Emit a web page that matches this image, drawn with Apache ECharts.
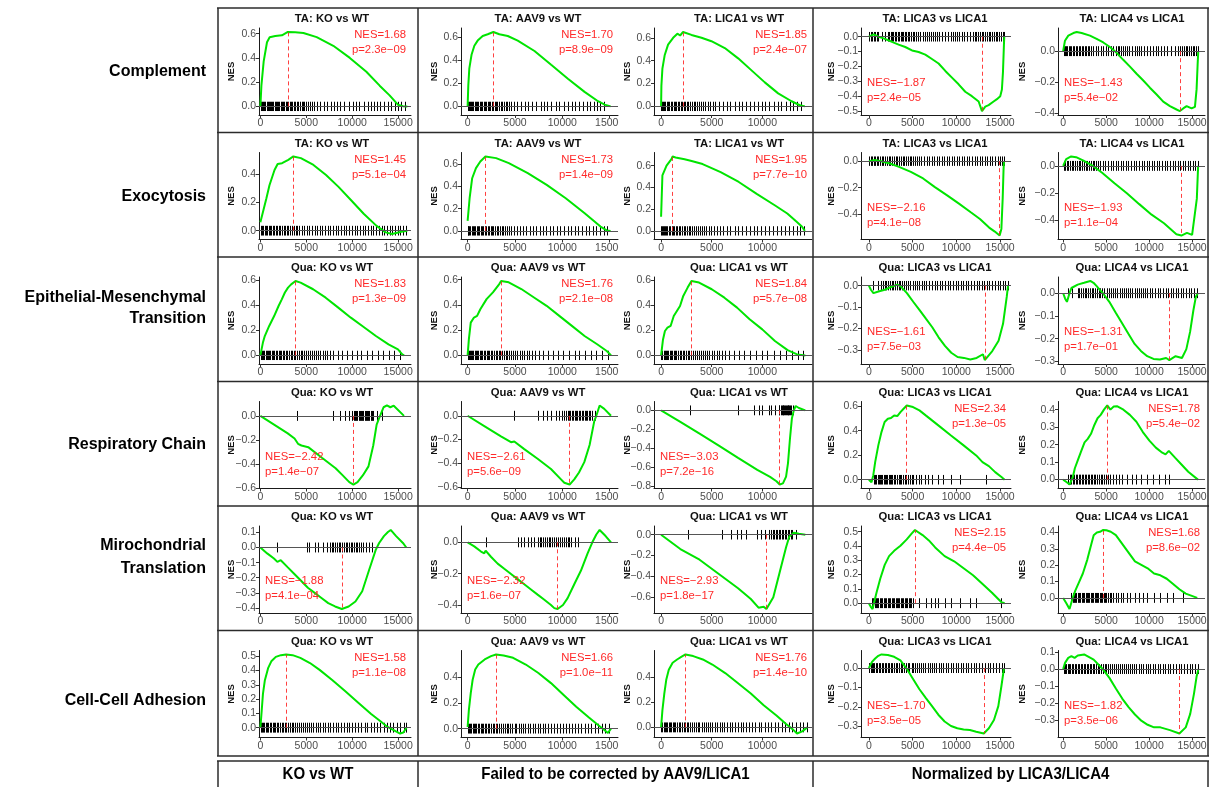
<!DOCTYPE html>
<html>
<head>
<meta charset="utf-8">
<title>GSEA enrichment plots</title>
<script src="https://cdn.jsdelivr.net/npm/echarts@6.0.0/dist/echarts.min.js"></script>
<style>
html,body{margin:0;padding:0;background:#ffffff;}
#chart{width:1209px;height:787px;}
</style>
</head>
<body>
<div id="chart"></div>
<script>
// ---------------- labels ----------------
const rowLabels = [['Complement'], ['Exocytosis'], ['Epithelial-Mesenchymal', 'Transition'], ['Respiratory Chain'], ['Mirochondrial', 'Translation'], ['Cell-Cell Adhesion']];
const groupLabels = ['KO vs WT', 'Failed to be corrected by AAV9/LICA1', 'Normalized by LICA3/LICA4'];
const tissues = ['TA', 'TA', 'Qua', 'Qua', 'Qua', 'Qua'];
const comparisons = ['KO vs WT', 'AAV9 vs WT', 'LICA1 vs WT', 'LICA3 vs LICA1', 'LICA4 vs LICA1'];
const nesValues = [
  [1.68, 1.70, 1.85, -1.87, -1.43],
  [1.45, 1.73, 1.95, -2.16, -1.93],
  [1.83, 1.76, 1.84, -1.61, -1.31],
  [-2.42, -2.61, -3.03, 2.34, 1.78],
  [-1.88, -2.32, -2.93, 2.15, 1.68],
  [1.58, 1.66, 1.76, -1.70, -1.82]
];
const pValues = [
  ['2.3e-09', '8.9e-09', '2.4e-07', '2.4e-05', '5.4e-02'],
  ['5.1e-04', '1.4e-09', '7.7e-10', '4.1e-08', '1.1e-04'],
  ['1.3e-09', '2.1e-08', '5.7e-08', '7.5e-03', '1.7e-01'],
  ['1.4e-07', '5.6e-09', '7.2e-16', '1.3e-05', '5.4e-02'],
  ['4.1e-04', '1.6e-07', '1.8e-17', '4.4e-05', '8.6e-02'],
  ['1.1e-08', '1.0e-11', '1.4e-10', '3.5e-05', '3.5e-06']
];
const xTickValues = [0, 5000, 10000, 15000];
const yTickValues = [
  [[0, 0.2, 0.4, 0.6], [0, 0.2, 0.4, 0.6], [0, 0.2, 0.4, 0.6], [-0.5, -0.4, -0.3, -0.2, -0.1, 0], [-0.4, -0.2, 0]],
  [[0, 0.2, 0.4], [0, 0.2, 0.4, 0.6], [0, 0.2, 0.4, 0.6], [-0.4, -0.2, 0], [-0.4, -0.2, 0]],
  [[0, 0.2, 0.4, 0.6], [0, 0.2, 0.4, 0.6], [0, 0.2, 0.4, 0.6], [-0.3, -0.2, -0.1, 0], [-0.3, -0.2, -0.1, 0]],
  [[-0.6, -0.4, -0.2, 0], [-0.6, -0.4, -0.2, 0], [-0.8, -0.6, -0.4, -0.2, 0], [0, 0.2, 0.4, 0.6], [0, 0.1, 0.2, 0.3, 0.4]],
  [[-0.4, -0.3, -0.2, -0.1, 0, 0.1], [-0.4, -0.2, 0], [-0.6, -0.4, -0.2, 0], [0, 0.1, 0.2, 0.3, 0.4, 0.5], [0, 0.1, 0.2, 0.3, 0.4]],
  [[0, 0.1, 0.2, 0.3, 0.4, 0.5], [0, 0.2, 0.4], [0, 0.2, 0.4], [-0.3, -0.2, -0.1, 0], [-0.3, -0.2, -0.1, 0, 0.1]]
];

// ---------------- running enrichment score curves [rank, ES] ----------------
const es_1_1 = [[0,0],[110,0.171],[360,0.371],[720,0.529],[1010,0.571],[1620,0.58],[2350,0.586],[2990,0.614],[3790,0.611],[4690,0.606],[6130,0.571],[7940,0.5],[9740,0.4],[11540,0.286],[12990,0.171],[14070,0.091],[14970,0.014],[15510,0.002],[16000,0]];
const es_1_2 = [[0,0],[70,0.18],[180,0.33],[420,0.45],[710,0.525],[1060,0.57],[1590,0.61],[2120,0.625],[2720,0.645],[3350,0.625],[4240,0.61],[5290,0.57],[7060,0.48],[8820,0.36],[10590,0.24],[12350,0.126],[13770,0.045],[14470,0.015],[15100,0]];
const es_1_3 = [[0,0],[30,0.18],[130,0.33],[360,0.45],[690,0.54],[1190,0.6],[1610,0.636],[1880,0.62],[2170,0.651],[3000,0.625],[3990,0.6],[4970,0.57],[6290,0.51],[7610,0.42],[8930,0.315],[10240,0.21],[11560,0.114],[12880,0.045],[13700,0.01],[14200,0]];
const es_1_4 = [[0,0],[160,0.011],[550,0.016],[1120,0],[1690,-0.011],[2640,-0.034],[3400,-0.053],[4160,-0.069],[4930,-0.092],[5690,-0.103],[6450,-0.12],[7210,-0.15],[7970,-0.18],[8740,-0.23],[9500,-0.275],[10260,-0.32],[11020,-0.37],[11780,-0.4],[12550,-0.436],[12930,-0.5],[13310,-0.47],[13690,-0.46],[14260,-0.436],[14640,-0.42],[15020,-0.4],[15210,-0.355],[15330,-0.24],[15440,-0.057],[15480,0]];
const es_1_5 = [[0,0],[210,0.067],[600,0.1],[1180,0.117],[1570,0.124],[2150,0.117],[3120,0.1],[3890,0.079],[4670,0.056],[5440,0.027],[6220,-0.011],[6990,-0.056],[7770,-0.1],[8540,-0.146],[9320,-0.19],[10090,-0.236],[10870,-0.28],[11640,-0.326],[12420,-0.355],[13190,-0.377],[13580,-0.387],[13970,-0.37],[14360,-0.355],[14940,-0.37],[15330,-0.36],[15520,-0.247],[15640,-0.09],[15715,0]];
const es_2_1 = [[0,0.06],[650,0.228],[990,0.323],[1540,0.431],[1880,0.474],[2360,0.479],[3040,0.503],[3590,0.527],[4410,0.515],[5780,0.467],[7150,0.395],[8510,0.311],[9880,0.216],[11250,0.12],[12620,0.036],[13640,-0.012],[14330,-0.024],[15350,-0.007],[16000,0]];
const es_2_2 = [[0,0.09],[210,0.294],[480,0.474],[880,0.565],[1340,0.625],[1880,0.67],[3010,0.655],[4350,0.61],[6350,0.52],[8350,0.414],[10360,0.294],[12360,0.159],[14030,0.039],[14690,0.004],[15100,0]];
const es_2_3 = [[0,0.13],[130,0.51],[540,0.6],[1020,0.66],[1140,0.685],[1430,0.676],[2320,0.66],[2920,0.645],[4100,0.615],[5880,0.54],[7670,0.45],[9440,0.34],[11220,0.236],[12460,0.16],[13300,0.09],[13900,0.04],[14200,0]];
const es_2_4 = [[0,0],[700,0.008],[1400,0],[2400,-0.018],[3450,-0.043],[4800,-0.081],[6200,-0.13],[7550,-0.195],[8950,-0.258],[10300,-0.32],[11650,-0.385],[12700,-0.435],[13750,-0.5],[14400,-0.53],[14950,-0.56],[15150,-0.51],[15300,-0.28],[15400,-0.056],[15450,0]];
const es_2_5 = [[0,0],[350,0.05],[930,0.069],[1500,0.064],[2370,0.038],[3450,0],[4530,-0.05],[5970,-0.127],[7410,-0.2],[8850,-0.28],[10290,-0.357],[11730,-0.42],[12450,-0.46],[13170,-0.5],[13750,-0.51],[14400,-0.49],[15000,-0.505],[15550,-0.24],[15700,0]];
const es_3_1 = [[0,0],[270,0.1],[480,0.154],[960,0.234],[1500,0.313],[1980,0.393],[2330,0.446],[2670,0.5],[3010,0.539],[3350,0.565],[3830,0.592],[4380,0.579],[5740,0.526],[7110,0.459],[8480,0.38],[9850,0.3],[11210,0.228],[12580,0.154],[13950,0.088],[14980,0.048],[15450,0.008],[15650,0]];
const es_3_2 = [[0,0],[130,0.127],[330,0.26],[670,0.3],[1000,0.313],[1340,0.366],[2000,0.446],[2670,0.5],[3340,0.565],[3540,0.59],[4340,0.579],[5670,0.526],[7010,0.459],[8340,0.393],[9680,0.313],[11010,0.234],[12350,0.154],[13680,0.088],[14690,0.035],[15150,0]];
const es_3_3 = [[0,0],[190,0.127],[380,0.194],[630,0.22],[940,0.234],[1250,0.313],[1870,0.393],[2190,0.473],[2620,0.539],[3000,0.592],[3750,0.579],[5000,0.526],[6250,0.459],[7500,0.38],[8740,0.287],[9990,0.207],[11240,0.114],[12490,0.042],[13430,0.008],[14240,0]];
const es_3_4 = [[0,0],[230,-0.019],[520,-0.035],[1090,-0.027],[1810,-0.019],[2540,-0.006],[3260,0.005],[3630,-0.003],[4350,-0.035],[5070,-0.075],[5800,-0.114],[6520,-0.154],[7250,-0.194],[7970,-0.241],[8700,-0.281],[9420,-0.313],[10140,-0.333],[10870,-0.337],[11590,-0.344],[12320,-0.337],[13040,-0.32],[13250,-0.347],[14110,-0.305],[14830,-0.257],[15340,-0.178],[15770,-0.05],[15910,0]];
const es_3_5 = [[0,0],[220,-0.023],[440,-0.038],[740,0],[960,0.023],[1690,0.038],[2430,0.046],[3160,0.054],[3530,0.046],[3900,0.031],[4260,0.015],[4630,0],[5370,-0.038],[6100,-0.085],[6840,-0.131],[7570,-0.177],[8310,-0.223],[9040,-0.254],[9780,-0.277],[10510,-0.289],[11250,-0.292],[11980,-0.285],[12350,-0.294],[13080,-0.277],[13820,-0.285],[14330,-0.246],[14770,-0.169],[15140,-0.077],[15440,-0.015],[15660,0]];
const es_4_1 = [[0,0],[1490,-0.072],[2980,-0.145],[3720,-0.188],[4100,-0.232],[4470,-0.246],[5210,-0.26],[6700,-0.348],[8190,-0.435],[8940,-0.493],[9680,-0.551],[10130,-0.571],[10580,-0.551],[11170,-0.493],[11770,-0.42],[12290,-0.246],[12660,-0.072],[13030,0],[13410,0.072],[13780,0.087],[14150,0.072],[14520,0.085],[15640,0]];
const es_4_2 = [[0,0],[1760,-0.087],[3520,-0.174],[4580,-0.223],[4930,-0.217],[5980,-0.281],[7390,-0.362],[8800,-0.449],[9860,-0.536],[10210,-0.565],[10770,-0.58],[11260,-0.536],[11760,-0.478],[12320,-0.391],[12880,-0.246],[13380,-0.043],[13590,0],[13940,0.087],[14430,0.058],[15140,0]];
const es_4_3 = [[0,0],[1900,-0.12],[3800,-0.245],[5700,-0.37],[7600,-0.5],[9500,-0.625],[10760,-0.7],[11390,-0.745],[11710,-0.78],[12030,-0.768],[12340,-0.696],[12530,-0.554],[12720,-0.304],[12910,-0.089],[13100,0],[13290,0.046],[13610,0.025],[14240,0]];
const es_4_4 = [[0,0],[300,-0.02],[500,0.035],[720,0.144],[1080,0.28],[1440,0.388],[1800,0.47],[2170,0.497],[2530,0.502],[2890,0.524],[3250,0.519],[3610,0.551],[3970,0.578],[4330,0.605],[5050,0.592],[5780,0.565],[6500,0.524],[7940,0.443],[9390,0.361],[10830,0.28],[12270,0.198],[12990,0.144],[13720,0.111],[14440,0.062],[15160,0.022],[15520,0]];
const es_4_5 = [[0,0],[380,-0.014],[750,-0.028],[1130,0.016],[1360,0.065],[1730,0.114],[2110,0.164],[2490,0.213],[2860,0.233],[3240,0.262],[3620,0.311],[4000,0.351],[4370,0.37],[4750,0.4],[5130,0.424],[5500,0.4],[5880,0.418],[6260,0.42],[7010,0.4],[7760,0.37],[8520,0.331],[9270,0.272],[10030,0.223],[10780,0.183],[11530,0.154],[11910,0.144],[12290,0.164],[13040,0.124],[13790,0.085],[14550,0.045],[15680,0]];
const es_5_1 = [[0,0],[740,-0.039],[1480,-0.073],[1850,-0.095],[2220,-0.084],[2960,-0.13],[3700,-0.175],[4430,-0.22],[5170,-0.266],[5910,-0.3],[6650,-0.334],[7390,-0.368],[8130,-0.39],[8870,-0.407],[9610,-0.39],[10350,-0.357],[11090,-0.289],[11820,-0.152],[12190,-0.084],[12560,-0.016],[12930,0.03],[13450,0.075],[13890,0.102],[14190,0.116],[14780,0.075],[15520,0.03],[15890,0]];
const es_5_2 = [[0,0],[700,-0.026],[1410,-0.059],[1760,-0.07],[1900,-0.053],[2460,-0.092],[3170,-0.136],[3870,-0.169],[4580,-0.202],[5280,-0.235],[5980,-0.268],[6690,-0.301],[7390,-0.334],[8100,-0.367],[8800,-0.4],[9150,-0.42],[9500,-0.426],[10070,-0.4],[10560,-0.356],[11260,-0.268],[11970,-0.18],[12670,-0.07],[13170,0],[13590,0.05],[13940,0.079],[14570,0.04],[15140,0]];
const es_5_3 = [[0,0],[1900,-0.137],[3800,-0.24],[5700,-0.377],[7600,-0.514],[8860,-0.617],[9620,-0.7],[10130,-0.69],[10400,-0.713],[11080,-0.6],[11710,-0.36],[12340,-0.12],[12660,-0.017],[12850,0],[13100,0.02],[13610,0.01],[14240,0]];
const es_5_4 = [[0,0],[200,-0.024],[420,-0.041],[580,0],[870,0.073],[1300,0.171],[1810,0.268],[2310,0.329],[2890,0.366],[3610,0.402],[4330,0.446],[4910,0.488],[5270,0.512],[6140,0.476],[6860,0.439],[7580,0.39],[8660,0.329],[9750,0.293],[10830,0.244],[11910,0.195],[13000,0.134],[14080,0.073],[15160,0.007],[15520,0]];
const es_5_5 = [[0,0],[370,-0.032],[740,-0.068],[1110,0],[1400,0.043],[1850,0.096],[2290,0.149],[2810,0.234],[3180,0.309],[3550,0.383],[3920,0.4],[4290,0.404],[4660,0.415],[5030,0.413],[5540,0.404],[6130,0.383],[6870,0.33],[7610,0.277],[8350,0.223],[9090,0.202],[9830,0.181],[10570,0.149],[11310,0.138],[12050,0.117],[12790,0.085],[13520,0.053],[14260,0.026],[15600,0]];
const es_6_1 = [[0,0],[140,0.115],[280,0.236],[490,0.332],[840,0.416],[1190,0.464],[1680,0.495],[2240,0.507],[2800,0.512],[3510,0.507],[4350,0.488],[5400,0.452],[6450,0.404],[7850,0.332],[9250,0.255],[10660,0.175],[12060,0.096],[13110,0.043],[13810,0.007],[14510,-0.017],[15210,-0.041],[15560,-0.034],[15910,0]];
const es_6_2 = [[0,0.013],[130,0.144],[330,0.275],[530,0.379],[800,0.458],[1130,0.497],[1800,0.536],[2470,0.562],[3000,0.575],[3800,0.567],[4800,0.549],[6140,0.497],[7470,0.431],[8800,0.353],[10140,0.261],[11470,0.17],[12810,0.086],[13810,0.026],[14470,-0.013],[14810,-0.034],[15140,0]];
const es_6_3 = [[0,0],[130,0.135],[320,0.27],[510,0.378],[760,0.459],[1140,0.514],[1580,0.54],[2030,0.562],[2410,0.58],[3170,0.567],[4120,0.54],[5060,0.5],[6330,0.432],[7600,0.351],[8860,0.27],[10130,0.176],[11390,0.095],[12340,0.027],[12980,-0.014],[13420,-0.049],[13930,-0.032],[14430,0]];
const es_6_4 = [[0,0],[360,0.032],[720,0.049],[1080,0.063],[1440,0.07],[2170,0.067],[2890,0.058],[3610,0.04],[4330,-0.004],[5050,-0.056],[5780,-0.109],[6500,-0.153],[7220,-0.196],[7940,-0.24],[8660,-0.275],[9390,-0.298],[10110,-0.31],[10830,-0.316],[11550,-0.319],[12270,-0.328],[13140,-0.337],[13720,-0.31],[14300,-0.267],[14800,-0.196],[15160,-0.091],[15450,0]];
const es_6_5 = [[0,0],[220,0.036],[590,0.065],[960,0.075],[1330,0.065],[1700,0.079],[2440,0.085],[2810,0.075],[3550,0.055],[4290,0.016],[4660,-0.004],[5400,-0.053],[6130,-0.113],[6870,-0.172],[7610,-0.222],[8350,-0.265],[9090,-0.301],[9830,-0.325],[10570,-0.34],[11310,-0.34],[12420,-0.356],[13520,-0.376],[14260,-0.34],[14780,-0.261],[15220,-0.143],[15520,-0.044],[15740,0]];

// ---------------- gene-set hit positions (ranks) ----------------
const hits_1_1 = [40,150,280,400,520,680,790,900,1050,1180,1300,1420,1580,1700,1820,1960,2080,2240,2360,2480,2620,2780,2900,3050,3200,3330,3480,3650,3800,3980,4120,4300,4480,4620,4800,5000,5150,5380,5600,5820,6150,6500,6900,7300,7650,8000,8350,8700,9150,9600,10050,10400,10750,11300,11700,12050,12350,12650,13000,13450,13900,14250,14650,15000,15350,15700];
const hits_1_2 = [30,110,230,350,470,600,740,880,1000,1130,1270,1420,1560,1700,1850,1980,2120,2260,2410,2560,2700,2840,3000,3150,3320,3480,3650,3820,4000,4200,4380,4600,4850,5250,5650,6050,6400,6800,7250,7700,8050,8400,8850,9300,9700,10150,10550,11000,11350,11800,12200,12600,12950,13300,13650,13950,14450];
const hits_1_3 = [30,100,190,310,430,560,690,820,960,1090,1230,1370,1510,1660,1800,1950,2100,2240,2390,2550,2700,2860,3020,3200,3380,3560,3740,3950,4150,4380,4600,4850,5100,5350,5700,6100,6500,6850,7250,7650,8000,8350,8750,9150,9550,9950,10300,10700,11100,11500,11850,12300,12700,13050,13450,13850];
const hits_1_4 = [60,220,380,560,740,920,1100,1500,1900,2150,2320,2480,2640,2800,2960,3120,3290,3450,3620,3780,3950,4120,4290,4460,4640,4820,5000,5180,5360,5560,5900,6200,6450,6650,6850,7060,7300,7550,7800,8050,8350,8650,9100,9350,9600,9850,10100,10350,10600,10900,11200,11550,11850,12100,12300,12500,12700,12900,13100,13300,13500,13700,13900,14100,14300,14500,14700,14900,15100,15300,15450];
const hits_1_5 = [40,180,330,480,630,780,940,1100,1280,1450,1620,1800,1980,2160,2340,2520,2700,2880,3060,3250,3450,3800,4100,4350,4650,4950,5250,5550,5850,6150,6350,6550,6750,6950,7150,7400,7700,8000,8300,8600,8850,9100,9400,9750,10100,10450,10750,11050,11400,11750,12100,12550,13000,13350,13600,13850,14050,14250,14450,14650,14850,15050,15250,15450,15650];
const hits_2_1 = [30,170,320,460,610,760,900,1060,1210,1370,1520,1680,1830,1990,2160,2330,2520,2700,2880,3060,3250,3440,3640,3830,4030,4250,4520,4800,5050,5330,5620,5900,6180,6470,6750,7050,7330,7620,7900,8200,8480,8770,9060,9350,9650,9950,10250,10540,10830,11130,11420,11720,12010,12300,12600,12900,13200,13480,13780,14070,14360,14660,14950,15250,15550,15850];
const hits_2_2 = [20,90,180,290,410,540,680,820,960,1100,1240,1380,1520,1670,1820,1970,2120,2270,2420,2570,2730,2890,3060,3230,3400,3580,3760,3950,4150,4380,4620,4900,5200,5500,5850,6200,6550,6900,7250,7600,7950,8300,8650,9000,9400,9800,10150,10550,10950,11300,11700,12100,12450,12850,13250,13600,14000,14350,14700];
const hits_2_3 = [20,80,160,250,360,480,610,750,890,1030,1170,1310,1460,1610,1760,1910,2060,2220,2380,2540,2710,2880,3060,3240,3420,3610,3800,4000,4230,4460,4700,4950,5200,5500,5800,6150,6500,6850,7250,7600,8000,8350,8750,9150,9500,9900,10300,10700,11050,11450,11850,12250,12650,13000,13400,13750,14100];
const hits_2_4 = [50,210,380,530,730,890,1100,1270,1490,1670,1890,2070,2290,2460,2680,2860,3080,3260,3470,3650,3870,4050,4270,4450,4660,4840,5060,5240,5470,5710,6010,6280,6590,6860,7170,7440,7750,8020,8330,8600,8910,9180,9490,9760,10070,10340,10650,10920,11230,11500,11810,12080,12390,12660,12970,13240,13550,13820,14130,14400,14710,14980,15260,15420];
const hits_2_5 = [40,230,390,610,790,1020,1190,1420,1590,1820,1990,2220,2390,2620,2790,3020,3190,3420,3590,3820,4010,4320,4590,4920,5190,5520,5790,6120,6390,6720,6990,7320,7590,7920,8190,8520,8790,9120,9390,9720,9990,10320,10590,10920,11190,11520,11790,12120,12390,12720,12990,13320,13590,13920,14190,14520,14790,15120,15390,15660];
const hits_3_1 = [60,180,300,430,560,690,820,960,1100,1240,1390,1530,1680,1830,1980,2130,2290,2450,2610,2770,2940,3110,3280,3460,3640,3820,4000,4190,4380,4570,4770,4970,5180,5390,5600,5820,6050,6280,6520,6770,7030,7300,7600,7900,8400,8900,9400,9950,10500,11000,11600,12200,12800,13400,14000,14600,15200];
const hits_3_2 = [40,150,260,380,500,620,750,880,1010,1140,1280,1420,1560,1700,1850,2000,2150,2300,2460,2620,2780,2950,3120,3290,3470,3650,3830,4020,4210,4410,4610,4820,5040,5260,5490,5730,5980,6240,6520,6800,7100,7500,8000,8500,9000,9500,10100,10700,11300,11800,12400,13000,13600,14200,14800];
const hits_3_3 = [30,130,240,350,470,590,710,840,970,1100,1240,1380,1520,1670,1820,1970,2130,2290,2450,2620,2790,2970,3150,3330,3520,3710,3910,4110,4320,4540,4760,4990,5230,5480,5740,6010,6300,6700,7200,7700,8200,8800,9400,10000,10500,11100,11700,12300,12900,13500,14000];
const hits_3_4 = [450,1000,1420,1590,1820,1980,2230,2390,2620,2810,3020,3190,3430,3580,3820,4010,4240,4520,4730,5020,5240,5530,5740,6020,6310,6580,6920,7180,7520,7790,8120,8380,8720,8990,9310,9580,9920,10180,10520,10790,11120,11380,11720,11990,12320,12580,12920,13190,13520,13780,14120,14390,14720,14980,15320,15580,15850];
const hits_3_5 = [600,1050,1700,1890,2120,2290,2520,2690,2920,3110,3320,3490,3720,3910,4120,4310,4560,4790,5060,5290,5560,5790,6060,6290,6560,6790,7060,7290,7560,7810,8040,8310,8540,8810,9040,9310,9540,9810,10120,10390,10720,10990,11320,11590,11920,12190,12520,12790,13120,13390,13720,13990,14320,14590,14920,15190,15520];
const hits_4_1 = [3950,7900,8650,9200,9650,9950,10150,10300,10450,10550,10700,10850,10950,11100,11200,11350,11450,11600,11700,11850,12000,12150,12250,12700,13250];
const hits_4_2 = [4900,7400,8000,8400,8800,9300,9700,10000,10200,10400,10550,10700,10850,11000,11150,11300,11450,11600,11750,11900,12050,12200,12350,12500,12650,12800,12950,13100,13450];
const hits_4_3 = [2850,7600,9180,9620,10000,10630,10890,11270,11600,11690,11810,11900,12010,12080,12170,12240,12330,12400,12490,12560,12650,12720,12810,13000];
const hits_4_4 = [580,700,850,1000,1150,1300,1400,1550,1700,1850,2000,2100,2250,2400,2550,2700,2850,3000,3200,3400,3550,3700,3900,4100,4300,4500,4700,4900,5100,5400,5700,6000,6400,6800,7200,7950,8500,9400,10450,13350];
const hits_4_5 = [600,750,950,1100,1300,1450,1650,1800,2000,2150,2300,2500,2650,2850,3000,3200,3400,3550,3750,3950,4150,4350,4550,4750,5000,5250,5500,5800,6100,6500,6900,7400,8000,8500,9100,9700,10400,11200,11800,12300];
const hits_5_1 = [1850,5030,5320,5900,6300,6800,7250,7550,7750,7950,8150,8350,8550,8700,8900,9100,9300,9450,9650,9850,10000,10200,10400,10550,10750,10950,11150,11450,11800,12200];
const hits_5_2 = [1900,5300,5650,6000,6350,6700,7050,7400,7600,7800,8000,8200,8400,8600,8750,8950,9150,9350,9550,9750,9950,10150,10350,10550,10750,10950,11300,11650];
const hits_5_3 = [2650,6000,6950,7450,7900,8350,9500,9880,10250,10700,10850,11000,11150,11300,11450,11600,11750,11900,12050,12200,12350,12500,12650,12800,12950,13300];
const hits_5_4 = [360,500,650,800,950,1100,1250,1400,1550,1700,1850,2000,2150,2300,2450,2600,2750,2900,3050,3200,3350,3500,3650,3800,3950,4100,4250,4400,4550,4700,4850,5050,5780,6500,7070,7580,7940,8660,9390,10470,11550,12270,15160];
const hits_5_5 = [960,1100,1250,1400,1550,1700,1850,2000,2150,2300,2450,2600,2750,2900,3050,3200,3350,3500,3650,3800,3950,4100,4250,4400,4550,4700,4850,5000,5200,5400,5600,5850,6100,6400,6700,7000,7400,7800,8300,8800,9300,9800,10570,11300,12050,12780,13890];
const hits_6_1 = [30,140,300,420,590,700,860,1020,1150,1320,1460,1640,1780,1960,2100,2300,2450,2650,2810,3020,3180,3390,3560,3780,3960,4190,4380,4620,4820,5070,5280,5540,5760,6030,6260,6540,6780,7070,7320,7620,7880,8190,8460,8780,9060,9390,9680,10020,10320,10670,10980,11340,11660,12020,12350,12720,13050,13430,13770,14150,14490,14880,15230,15620,15880];
const hits_6_2 = [20,120,260,380,520,640,790,920,1070,1200,1360,1500,1660,1800,1970,2120,2290,2450,2630,2790,2980,3150,3340,3520,3720,3900,4110,4300,4520,4720,4950,5160,5400,5620,5870,6100,6360,6600,6870,7120,7400,7660,7950,8220,8520,8800,9110,9400,9720,10020,10350,10660,11000,11320,11670,12000,12360,12700,13070,13420,13800,14160,14540,14900];
const hits_6_3 = [20,110,240,340,490,590,750,860,1020,1130,1300,1420,1590,1720,1900,2030,2220,2360,2550,2690,2890,3040,3250,3410,3620,3790,4010,4190,4420,4610,4850,5050,5300,5510,5770,5990,6260,6490,6770,7010,7300,7550,7850,8110,8420,8690,9010,9290,9620,9910,10250,10550,10900,11210,11570,11890,12260,12590,12970,13310,13700,14050,14380];
const hits_6_4 = [40,200,330,510,640,830,970,1160,1300,1490,1640,1830,1980,2180,2330,2530,2690,2900,3060,3270,3440,3660,3830,4050,4230,4460,4640,4880,5070,5310,5510,5760,5970,6230,6450,6720,6940,7220,7450,7730,7970,8260,8510,8800,9050,9350,9610,9910,10180,10490,10770,11080,11370,11690,11980,12300,12600,12930,13230,13570,13880,14220,14540,14880,15200,15420];
const hits_6_5 = [60,210,370,520,690,840,1010,1170,1350,1500,1680,1840,2020,2180,2370,2530,2720,2890,3080,3250,3450,3620,3830,4010,4220,4400,4620,4810,5030,5230,5460,5660,5900,6100,6350,6560,6810,7030,7290,7510,7780,8010,8280,8520,8800,9040,9330,9580,9870,10130,10430,10690,11000,11270,11580,11860,12180,12460,12790,13080,13420,13710,14060,14360,14720,15030,15380,15680];

const curves = [
  [es_1_1, es_1_2, es_1_3, es_1_4, es_1_5],
  [es_2_1, es_2_2, es_2_3, es_2_4, es_2_5],
  [es_3_1, es_3_2, es_3_3, es_3_4, es_3_5],
  [es_4_1, es_4_2, es_4_3, es_4_4, es_4_5],
  [es_5_1, es_5_2, es_5_3, es_5_4, es_5_5],
  [es_6_1, es_6_2, es_6_3, es_6_4, es_6_5]
];
const hits = [
  [hits_1_1, hits_1_2, hits_1_3, hits_1_4, hits_1_5],
  [hits_2_1, hits_2_2, hits_2_3, hits_2_4, hits_2_5],
  [hits_3_1, hits_3_2, hits_3_3, hits_3_4, hits_3_5],
  [hits_4_1, hits_4_2, hits_4_3, hits_4_4, hits_4_5],
  [hits_5_1, hits_5_2, hits_5_3, hits_5_4, hits_5_5],
  [hits_6_1, hits_6_2, hits_6_3, hits_6_4, hits_6_5]
];

// ---------------- layout ----------------
const FONT = '"Liberation Sans", Arial, Helvetica, sans-serif';
const ROW_TOP = [8, 132.5, 257, 381.5, 506, 630.5];
const GRID_BOTTOM_Y = 756;
const PLOT_OFFSET = 20, PLOT_HEIGHT = 87;
const COL_GRID = [[259, 411], [461, 618], [654, 812], [861, 1011], [1058, 1205]];
const COL_XRANGE = [[-150, 16400], [-700, 15880], [-700, 14900], [-900, 16250], [-600, 16500]];
const COL_TITLE_X = [332, 538, 739, 935, 1132];
const COL_NES_X = [231, 434, 627, 831, 1022];
const ROW_LABEL_Y = [[72], [197], [298, 319], [445], [546, 569], [701]];
const FRAME_X = [218, 418, 813, 1208];
const GROUP_X = [318, 615.5, 1010.5];
const GROUP_Y = 774, GROUP_TOP = 761;

const minus = '\u2212';
const fmtY = v => (v < 0 ? minus : '') + Math.abs(v).toFixed(1);

const grid = [], xAxis = [], yAxis = [], series = [], elements = [];

function text(x, y, s, font, fill, align, rot, sx) {
  return { type: 'text', x: x, y: y, rotation: rot || 0, scaleX: sx || 1, z: 10, silent: true,
    style: { text: s, font: font, fill: fill, align: align, verticalAlign: 'middle' } };
}
function seg(x1, y1, x2, y2) {
  return { type: 'line', z: 20, silent: true, shape: { x1: x1, y1: y1, x2: x2, y2: y2 },
    style: { stroke: '#2b2b2b', lineWidth: 1.5 } };
}

for (let r = 0; r < 6; r++) {
  for (let c = 0; c < 5; c++) {
    const i = r * 5 + c;
    const curve = curves[r][c];
    const ys = curve.map(p => p[1]);
    const cmax = Math.max(0, ...ys), cmin = Math.min(0, ...ys);
    const h = (cmax - cmin) / 16;
    const lo = Math.min(cmin, -h), hi = Math.max(cmax, h), pad = 0.05 * (hi - lo);
    const [gl, gr] = COL_GRID[c];
    const top = ROW_TOP[r] + PLOT_OFFSET;
    const [xmin, xmax] = COL_XRANGE[c];
    const xt = xTickValues.filter(v => v >= xmin && v <= xmax);
    let peak = curve[0];
    curve.forEach(p => { if (Math.abs(p[1]) > Math.abs(peak[1])) peak = p; });

    grid.push({ left: gl, width: gr - gl, top: top, height: PLOT_HEIGHT, outerBoundsMode: 'none', containLabel: false });
    xAxis.push({
      type: 'value', gridIndex: i, min: xmin, max: xmax,
      axisLine: { show: true, onZero: false, lineStyle: { color: '#1a1a1a', width: 1 } },
      axisTick: { show: true, length: 3, customValues: xt, lineStyle: { color: '#333' } },
      axisLabel: { customValues: xt, formatter: v => String(v), color: '#4d4d4d', fontSize: 10.5, fontFamily: FONT, margin: 3 },
      splitLine: { show: false }
    });
    yAxis.push({
      type: 'value', gridIndex: i, min: lo - pad, max: hi + pad,
      axisLine: { show: true, onZero: false, lineStyle: { color: '#1a1a1a', width: 1 } },
      axisTick: { show: true, length: 3, customValues: yTickValues[r][c], lineStyle: { color: '#333' } },
      axisLabel: { customValues: yTickValues[r][c], formatter: fmtY, color: '#4d4d4d', fontSize: 10.5, fontFamily: FONT, margin: 3 },
      splitLine: { show: false }
    });

    // zero reference line
    series.push({
      type: 'line', xAxisIndex: i, yAxisIndex: i, data: curve, silent: true, z: 1,
      showSymbol: false, lineStyle: { opacity: 0 },
      markLine: { silent: true, symbol: 'none', label: { show: false }, animation: false,
        lineStyle: { color: '#555', width: 1.2, type: 'solid' }, data: [{ yAxis: 0 }] }
    });
    // hit rug + dashed extreme marker
    series.push({
      type: 'custom', xAxisIndex: i, yAxisIndex: i, z: 2, silent: true,
      data: hits[r][c].map(v => [v, 0]),
      encode: { x: 0, y: 1 },
      renderItem: (params, api) => {
        const x = api.value(0);
        const a = api.coord([x, -h]), b = api.coord([x, h]);
        const px = Math.round(a[0]) + 0.5;
        return { type: 'line', shape: { x1: px, y1: a[1], x2: px, y2: b[1] },
          style: { stroke: '#000', lineWidth: 1 } };
      },
      markLine: { silent: true, symbol: 'none', label: { show: false }, animation: false,
        lineStyle: { color: 'rgba(255,30,30,0.85)', width: 1, type: [4, 3] },
        data: [[{ coord: [peak[0], 0] }, { coord: [peak[0], peak[1]] }]] }
    });
    // running enrichment score
    series.push({
      type: 'line', xAxisIndex: i, yAxisIndex: i, data: curve, z: 4, silent: true,
      showSymbol: false, smooth: false,
      lineStyle: { color: '#00e400', width: 2 }
    });

    // panel title
    elements.push(text(COL_TITLE_X[c], ROW_TOP[r] + 11, tissues[r] + ': ' + comparisons[c], 'bold 11.3px ' + FONT, '#111', 'center'));
    // y-axis title
    elements.push(text(COL_NES_X[c], top + PLOT_HEIGHT / 2, 'NES', 'bold 9.5px ' + FONT, '#111', 'center', Math.PI / 2));
    // NES / p annotation
    const nes = nesValues[r][c];
    const nesStr = 'NES=' + (nes < 0 ? minus : '') + Math.abs(nes).toFixed(2);
    const pStr = 'p=' + pValues[r][c].replace('-', minus);
    if (nes > 0) {
      elements.push(text(gr - 5, top + 7, nesStr, '11.3px ' + FONT, '#ff2a2a', 'right'));
      elements.push(text(gr - 5, top + 22, pStr, '11.3px ' + FONT, '#ff2a2a', 'right'));
    } else {
      elements.push(text(gl + 6, top + 55, nesStr, '11.3px ' + FONT, '#ff2a2a', 'left'));
      elements.push(text(gl + 6, top + 70, pStr, '11.3px ' + FONT, '#ff2a2a', 'left'));
    }
  }
  // col2 tick label clipped by neighbouring panel
  elements.push({ type: 'rect', z: 30, silent: true,
    shape: { x: 618.5, y: ROW_TOP[r] + 108, width: 22, height: 14 }, style: { fill: '#fff' } });
  // row label
  rowLabels[r].forEach((s, k) => {
    elements.push(text(206, ROW_LABEL_Y[r][k], s, 'bold 16px ' + FONT, '#000', 'right'));
  });
}

// frame
FRAME_X.forEach(x => elements.push(seg(x, ROW_TOP[0], x, GRID_BOTTOM_Y)));
ROW_TOP.concat([GRID_BOTTOM_Y]).forEach(y => elements.push(seg(217, y, 1209, y)));
elements.push(seg(217, GROUP_TOP, 1209, GROUP_TOP));
FRAME_X.forEach(x => elements.push(seg(x, GROUP_TOP, x, 787)));
groupLabels.forEach((s, k) => elements.push(text(GROUP_X[k], GROUP_Y, s, 'bold 16.5px ' + FONT, '#000', 'center', 0, 0.91)));

const chart = echarts.init(document.getElementById('chart'), null, { renderer: 'canvas', width: 1209, height: 787 });
chart.setOption({
  animation: false,
  backgroundColor: '#ffffff',
  textStyle: { fontFamily: FONT },
  grid: grid,
  xAxis: xAxis,
  yAxis: yAxis,
  series: series,
  graphic: { elements: elements }
});
</script>
</body>
</html>
